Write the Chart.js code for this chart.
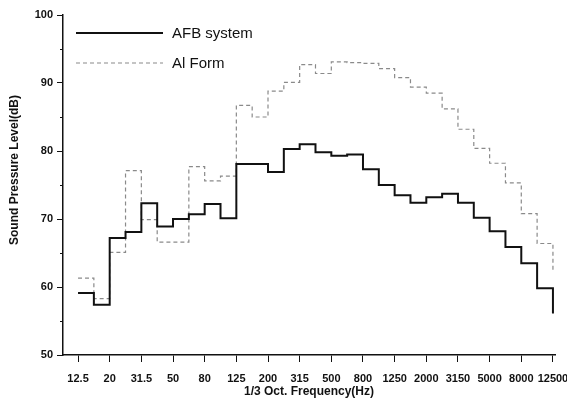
<!DOCTYPE html>
<html>
<head>
<meta charset="utf-8">
<script src="https://cdn.jsdelivr.net/npm/chart.js@4.4.0/dist/chart.umd.min.js"></script>
<style>
  html, body { margin: 0; padding: 0; background: #fff; }
  #wrap { width: 567px; height: 404px; }
</style>
</head>
<body>
<div id="wrap"><canvas id="splChart"></canvas></div>
<script>
// 1/3 octave bands (Hz)
const bands = ['12.5', '16', '20', '25', '31.5', '40', '50', '63', '80', '100',
  '125', '160', '200', '250', '315', '400', '500', '630', '800', '1000',
  '1250', '1600', '2000', '2500', '3150', '4000', '5000', '6300', '8000', '10000', '12500'];

// labels shown under the x axis
const tickLabels = ['12.5', '20', '31.5', '50', '80', '125', '200', '315',
  '500', '800', '1250', '2000', '3150', '5000', '8000', '12500'];

// sound pressure level (dB) per band
const afbSystem = [59.1, 57.4, 67.2, 68.1, 72.3, 68.9, 70.0, 70.7, 72.2, 70.1,
  78.1, 78.1, 76.9, 80.3, 81.0, 79.8, 79.3, 79.5, 77.3, 75.0,
  73.5, 72.4, 73.2, 73.7, 72.4, 70.2, 68.2, 65.9, 63.5, 59.8, 56.1];

const alForm = [61.3, 58.3, 65.1, 77.1, 69.9, 66.6, 66.6, 77.7, 75.6, 76.3,
  86.7, 85.0, 88.8, 90.1, 92.7, 91.4, 93.1, 93.0, 92.9, 92.1,
  90.8, 89.4, 88.5, 86.2, 83.2, 80.4, 78.2, 75.3, 70.8, 66.4, 62.5];

const yMajorTicks = [50, 60, 70, 80, 90, 100];
const yMinorTicks = [55, 65, 75, 85, 95];

const yTitle = 'Sound Pressure Level(dB)';
const xTitle = '1/3 Oct. Frequency(Hz)';

const toPoints = (arr) => arr.map((v, i) => ({ x: i, y: v }));

// legend inside the plot + y title + minor ticks
const extras = {
  id: 'extras',
  afterDraw(chart) {
    const ctx = chart.ctx;
    const yScale = chart.scales.y;
    ctx.save();

    // minor ticks on y axis
    ctx.strokeStyle = '#111';
    ctx.lineWidth = 1;
    yMinorTicks.forEach((v) => {
      const py = Math.round(yScale.getPixelForValue(v)) + 0.5;
      ctx.beginPath();
      ctx.moveTo(yScale.right - 3, py);
      ctx.lineTo(yScale.right, py);
      ctx.stroke();
    });

    // y title
    ctx.translate(15, 170);
    ctx.rotate(-Math.PI / 2);
    ctx.fillStyle = '#111';
    ctx.font = 'bold 12px "Liberation Sans", Arial, sans-serif';
    ctx.textAlign = 'center';
    ctx.textBaseline = 'middle';
    ctx.fillText(yTitle, 0, 0);
    ctx.setTransform(1, 0, 0, 1, 0, 0);

    // legend
    const rows = [33, 63];
    ctx.font = '15px "Liberation Sans", Arial, sans-serif';
    ctx.textAlign = 'left';
    chart.data.datasets.forEach((ds, i) => {
      const y = rows[i];
      ctx.beginPath();
      ctx.strokeStyle = ds.borderColor;
      ctx.lineWidth = ds.borderWidth;
      ctx.setLineDash(ds.borderDash || []);
      ctx.moveTo(76, y);
      ctx.lineTo(163, y);
      ctx.stroke();
      ctx.setLineDash([]);
      ctx.fillStyle = '#111';
      ctx.fillText(ds.label, 172, y + 1);
    });
    ctx.restore();
  }
};

const tickFont = { family: '"Liberation Sans", Arial, sans-serif', size: 11, weight: 'bold' };

new Chart(document.getElementById('splChart'), {
  type: 'line',
  data: {
    datasets: [{
      label: 'AFB system',
      data: toPoints(afbSystem),
      borderColor: '#111',
      borderWidth: 2,
      stepped: true,
      pointRadius: 0,
      fill: false
    }, {
      label: 'Al Form',
      data: toPoints(alForm),
      borderColor: '#8a8a8a',
      borderWidth: 1.2,
      borderDash: [4, 3],
      stepped: true,
      pointRadius: 0,
      fill: false
    }]
  },
  options: {
    responsive: true,
    maintainAspectRatio: false,
    animation: false,
    layout: { padding: { left: 0, right: 12, top: 15, bottom: 0 } },
    plugins: {
      legend: { display: false },
      tooltip: { enabled: false }
    },
    scales: {
      x: {
        type: 'linear',
        min: -0.95,
        max: 30.13,
        afterFit: (scale) => {
          scale.height = 49;
          scale.paddingLeft = 0;
          scale.paddingRight = 0;
        },
        afterBuildTicks: (scale) => {
          scale.ticks = tickLabels.map((l) => ({ value: bands.indexOf(l) }));
        },
        ticks: {
          autoSkip: false,
          maxRotation: 0,
          padding: 10,
          color: '#111',
          font: tickFont,
          callback: (v) => bands[v]
        },
        grid: { drawOnChartArea: false, tickLength: 7, color: '#111', tickWidth: 1 },
        border: { display: true, color: '#111', width: 1.5 },
        title: {
          display: true,
          text: xTitle,
          color: '#111',
          font: { family: '"Liberation Sans", Arial, sans-serif', size: 12, weight: 'bold' },
          padding: { top: 0, bottom: 5 }
        }
      },
      y: {
        min: 50,
        max: 100,
        afterFit: (scale) => {
          scale.width = 63;
          scale.paddingTop = 0;
          scale.paddingBottom = 0;
        },
        afterBuildTicks: (scale) => {
          scale.ticks = yMajorTicks.map((v) => ({ value: v }));
        },
        ticks: {
          padding: 4,
          color: '#111',
          font: tickFont
        },
        grid: { drawOnChartArea: false, tickLength: 6, color: '#111', tickWidth: 1 },
        border: { display: true, color: '#111', width: 1.5 }
      }
    }
  },
  plugins: [extras]
});
</script>
</body>
</html>
